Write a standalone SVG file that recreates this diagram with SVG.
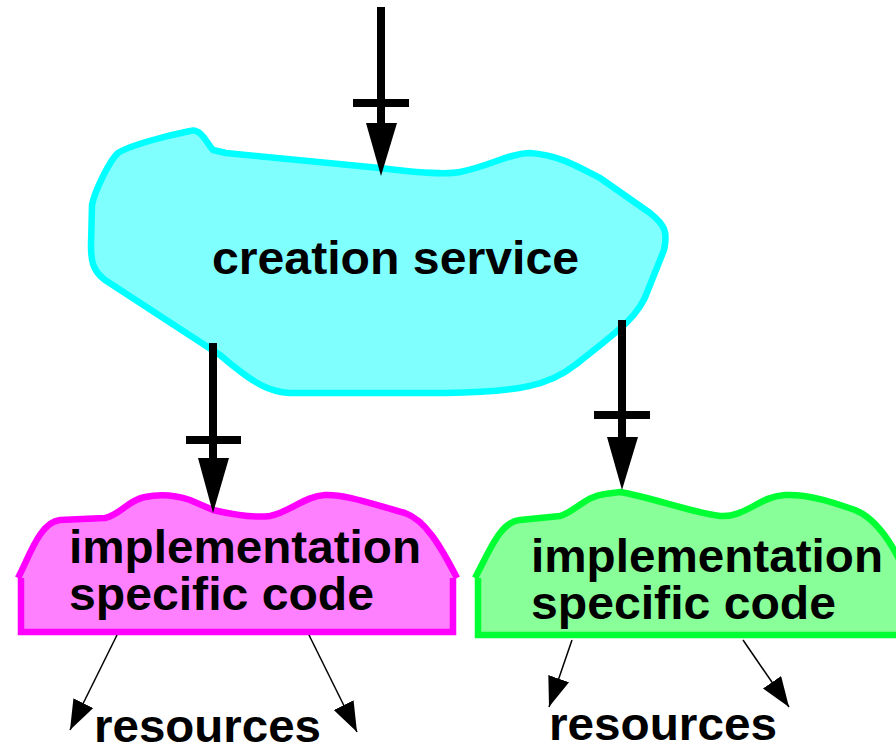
<svg xmlns="http://www.w3.org/2000/svg" width="896" height="749" viewBox="0 0 896 749">
<defs>
<style>
.lbl{font-family:"Liberation Sans",Arial,sans-serif;font-weight:bold;font-size:46px;fill:#000}
.thick{stroke:#000;stroke-width:8;fill:none}
.thin{stroke:#000;stroke-width:1.5;fill:none;marker-end:url(#ah)}
.head{fill:#000}
</style>
<marker id="ah" markerUnits="userSpaceOnUse" markerWidth="30" markerHeight="22" refX="30" refY="11" orient="auto" viewBox="0 0 30 22">
<path d="M0,0 L30,11 L0,22 z" fill="#000"/>
</marker>
</defs>
<rect width="896" height="749" fill="#fff"/>
<g id="creation-service">
<path d="M190,131 C200,128 205,140 213,150 L226,153 L380,168 C420,173 445,175 460,172 C490,166 510,153 530,153 C560,155 580,168 600,178 L650,213 C665,225 668,232 664,250 L648,290 C640,315 620,330 575,365 C550,385 520,392 445,393 L290,393 C270,392 255,385 220,355 L105,280 C92,270 91,260 91,245 L92,205 C95,190 110,160 118,153 C130,145 170,135 190,131 Z" fill="#80ffff" stroke="#00ffff" stroke-width="6.5" stroke-linejoin="round"/>
<text class="lbl" x="212" y="274" textLength="367" lengthAdjust="spacingAndGlyphs">creation service</text>
</g>
<g id="impl-magenta">
<path d="M18,578 C30,555 40,522 60,520 L105,518 C120,515 128,500 145,497 C160,494 175,495 190,500 L213,510 C235,515 255,518 270,516 C290,512 305,496 325,495 C345,494 375,505 405,513 C425,520 440,545 457,578 Z" fill="#ff80ff" stroke="none"/>
<rect x="21" y="578" width="432" height="54" fill="#ff80ff"/>
<path d="M18,578 C30,555 40,522 60,520 L105,518 C120,515 128,500 145,497 C160,494 175,495 190,500 L213,510 C235,515 255,518 270,516 C290,512 305,496 325,495 C345,494 375,505 405,513 C425,520 440,545 457,578" fill="none" stroke="#ff00ff" stroke-width="6.5"/>
<path d="M21,578 L21,632 L453,632 L453,578" fill="none" stroke="#ff00ff" stroke-width="6.5"/>
<text class="lbl" x="69" y="563" textLength="352" lengthAdjust="spacingAndGlyphs">implementation</text>
<text class="lbl" x="69" y="610" textLength="305" lengthAdjust="spacingAndGlyphs">specific code</text>
</g>
<g id="impl-green">
<path d="M475,578 C490,550 500,522 520,520 L560,516 C575,512 585,496 605,494 L620,492 C650,497 690,512 720,516 C745,518 760,496 785,495 C810,494 835,503 855,510 C875,518 890,540 902,565 L902,578 Z" fill="#88ff99" stroke="none"/>
<rect x="478" y="578" width="424" height="57" fill="#88ff99"/>
<path d="M475,578 C490,550 500,522 520,520 L560,516 C575,512 585,496 605,494 L620,492 C650,497 690,512 720,516 C745,518 760,496 785,495 C810,494 835,503 855,510 C875,518 890,540 902,565" fill="none" stroke="#00ff33" stroke-width="6.5"/>
<path d="M478,578 L478,635 L902,635" fill="none" stroke="#00ff33" stroke-width="6.5"/>
<text class="lbl" x="531" y="572" textLength="352" lengthAdjust="spacingAndGlyphs">implementation</text>
<text class="lbl" x="531" y="619" textLength="305" lengthAdjust="spacingAndGlyphs">specific code</text>
</g>
<g id="resources-left">
<text class="lbl" x="94" y="742" textLength="227" lengthAdjust="spacingAndGlyphs">resources</text>
</g>
<g id="resources-right">
<text class="lbl" x="549" y="740" textLength="228" lengthAdjust="spacingAndGlyphs">resources</text>
</g>
<g id="connectors">
<line class="thick" x1="381" y1="7" x2="381" y2="130"/>
<line class="thick" x1="353" y1="103" x2="409" y2="103"/>
<polygon class="head" points="366,123 397,123 381,176"/>
<line class="thick" x1="213" y1="343" x2="213" y2="465"/>
<line class="thick" x1="186" y1="440" x2="241" y2="440"/>
<polygon class="head" points="198,458 229,458 213,513"/>
<line class="thick" x1="622" y1="320" x2="622" y2="442"/>
<line class="thick" x1="594" y1="415" x2="650" y2="415"/>
<polygon class="head" points="607,437 638,437 622,490"/>
<line class="thin" x1="117" y1="635" x2="70" y2="730"/>
<line class="thin" x1="309" y1="635" x2="357" y2="732"/>
<line class="thin" x1="572" y1="640" x2="549" y2="707"/>
<line class="thin" x1="743" y1="640" x2="789" y2="707"/>
</g>
</svg>
